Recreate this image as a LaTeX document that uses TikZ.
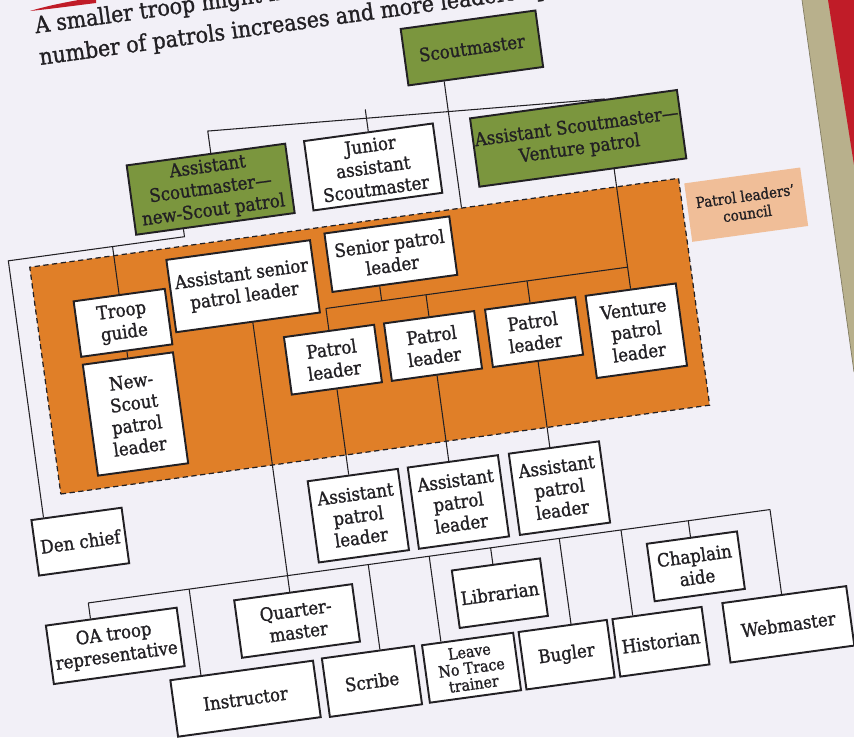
\documentclass[tikz,border=0pt]{standalone}
\usepackage{fontspec}
\setmainfont{DejaVu Serif}[FakeStretch=0.9, FakeBold=1.2]
\usetikzlibrary{positioning}

\definecolor{pagebg}{RGB}{242,240,247}
\definecolor{leadgreen}{RGB}{123,150,62}
\definecolor{plcorange}{RGB}{224,127,40}
\definecolor{plcpeach}{RGB}{240,190,152}
\definecolor{inkgray}{RGB}{34,32,36}
\definecolor{bindred}{RGB}{192,28,40}
\definecolor{spinetan}{RGB}{184,176,140}

\tikzset{
  role/.style={draw=inkgray, line width=1.1pt, fill=white, align=center, inner sep=1pt,
    text=inkgray, font=\fontsize{10.5}{12.5}\selectfont},
  lead/.style={role, fill=leadgreen},
  link/.style={draw=inkgray, line width=0.6pt},
  plcarea/.style={fill=plcorange, draw=inkgray, dashed, dash pattern=on 3pt off 2pt, line width=0.7pt},
  intro/.style={text=inkgray, inner sep=0pt, font=\fontsize{13}{18}\selectfont},
}

\begin{document}
\begin{tikzpicture}[x=0.02cm, y=-0.02cm]
        \useasboundingbox (0,0) rectangle (854,737);
        \fill[pagebg] (0,0) rectangle (854,737);
        \fill[spinetan] (802,0) -- (854,0) -- (854,372) -- cycle;
        \draw[spinetan!70!black, line width=0.4pt] (802,0) -- (854,372);
        \fill[bindred] (828,0) -- (854,0) -- (854,165) -- cycle;
        \fill[bindred] (30,11) .. controls (50,5) and (72,1) .. (96,-3) -- (96,3) .. controls (72,6) and (50,9) .. (30,11) -- cycle;

        \begin{scope}[transform canvas={rotate around={7.8:(427,368.5)}}]
        \node[intro, anchor=base west] (intro1) at (84.8,-16.7) {A smaller troop might have};
        \node[intro, anchor=base west] (intro2) at (84.8,15.3) {number of patrols increases and more leadership};

        % patrol leaders' council
        \node[plcarea, minimum width=13.1cm, minimum height=4.58cm] (plc) at (374.6,328.7) {};
        \node[fill=plcpeach, text=inkgray, align=center, inner sep=1pt, minimum width=2.34cm, minimum height=1.18cm,
          font=\fontsize{8.5}{10}\selectfont] (plclabel) at (765.5,249.5) {Patrol leaders'\\council};

        % adult leaders
        \node[lead, minimum width=2.72cm, minimum height=1.14cm] (sm) at (515,57) {Scoutmaster};
        \node[lead, minimum width=3.2cm, minimum height=1.4cm] (asmns) at (237,161.5) {Assistant\\Scoutmaster---\\new-Scout patrol};
        \node[role, minimum width=2.6cm, minimum height=1.4cm] (jasm) at (401,161.5) {Junior\\assistant\\Scoutmaster};
        \node[lead, minimum width=4.14cm, minimum height=1.38cm] (asmv) at (608,161) {Assistant Scoutmaster---\\Venture patrol};

        % inside the council
        \node[role, minimum width=2.9cm, minimum height=1.46cm] (aspl) at (256,262) {Assistant senior\\patrol leader};
        \node[role, minimum width=2.52cm, minimum height=1.18cm] (spl) at (406.7,250.3) {Senior patrol\\leader};
        \node[role, minimum width=1.84cm, minimum height=1.12cm] (tg) at (132,282) {Troop\\guide};
        \node[role, minimum width=1.82cm, minimum height=2.24cm] (nspl) at (132,374) {New-\\Scout\\patrol\\leader};
        \node[role, minimum width=1.82cm, minimum height=1.66cm] (vpl) at (639.5,359.5) {Venture\\patrol\\leader};

        \node[role, minimum width=1.82cm, minimum height=1.12cm] (den) at (60,493) {Den chief};

        % bottom rows
        \node[role, minimum width=2.64cm, minimum height=1.18cm] (oa) at (80.5,601) {OA troop\\representative};
        \node[role, minimum width=2.38cm, minimum height=1.16cm] (qm) at (264,601) {Quarter-\\master};
        \node[role, minimum width=1.78cm, minimum height=1.16cm] (lib) at (468.7,601) {Librarian};
        \node[role, minimum width=1.82cm, minimum height=1.16cm] (chap) at (666.5,601) {Chaplain\\aide};
        \node[role, minimum width=2.88cm, minimum height=1.14cm] (inst) at (202.4,671) {Instructor};
        \node[role, minimum width=1.86cm, minimum height=1.18cm] (scribe) at (330,671) {Scribe};
        \node[role, minimum width=1.84cm, minimum height=1.16cm, font=\fontsize{9}{9.3}\selectfont] (lnt) at (430.5,671) {Leave\\No Trace\\trainer};
        \node[role, minimum width=1.78cm, minimum height=1.16cm] (bugler) at (526.5,671) {Bugler};
        \node[role, minimum width=1.8cm, minimum height=1.16cm] (hist) at (621.7,671) {Historian};
        \node[role, minimum width=2.5cm, minimum height=1.2cm] (web) at (750.3,671) {Webmaster};

        % top bus
        \coordinate (topbus) at (0,103.5);
        \draw[link] (242,0 |- asmns.north) -- (242,0 |- topbus) -- (asmv.north -| vpl.north |- topbus) -- (asmv.north -| vpl.north);
        \draw[link] (jasm.north) -- (jasm.north |- topbus);
        \draw[link] (483,0 |- sm.south) -- (483,0 |- plc.north);
        \draw[link] (asmv.south -| vpl.north) -- (vpl.north);

        % new-Scout side
        \coordinate (nsbus) at (0,205);
        \draw[link] (204.6,0 |- asmns.south) -- (204.6,0 |- nsbus) -- (26.8,0 |- nsbus) -- (26.8,0 |- den.north);
        \draw[link] (tg.north) -- (tg.north |- nsbus);
        \draw[link] (tg.south) -- (nspl.north);

        % patrols
        \coordinate (plbus) at (0,295.3);
        \draw[link] (391.3,0 |- spl.south) -- (391.3,0 |- plbus);
        \foreach \i/\ux in {1/335,2/436,3/538}
        {\node[role, minimum width=1.82cm, minimum height=1.16cm] (pl\i) at (\ux,347) {Patrol\\leader};
        \node[role, minimum width=1.82cm, minimum height=1.64cm] (apl\i) at (\ux+4,505) {Assistant\\patrol\\leader};
        \draw[link] (pl\i.north) -- (pl\i.north |- plbus);
        \draw[link] (pl\i.south) -- (pl\i.south |- apl\i.north);
        }
        \draw[link] (pl1.north |- plbus) -- (vpl.north |- plbus);

        % assistant senior patrol leader and the others
        \coordinate (lowbus) at (0,554.8);
        \draw[link] (260.7,0 |- aspl.south) -- (260.7,0 |- qm.north);
        \draw[link] (59.6,0 |- lowbus) -- (747.7,0 |- lowbus);
        \foreach \n/\ux in {oa/59.6, inst/161.4, scribe/342.2, lnt/403.7, lib/465.7, bugler/535, hist/597.3, chap/665.2, web/747.7}
        \draw[link] (\ux,0 |- lowbus) -- (\ux,0 |- \n.north);
        \end{scope}
\end{tikzpicture}
\end{document}
